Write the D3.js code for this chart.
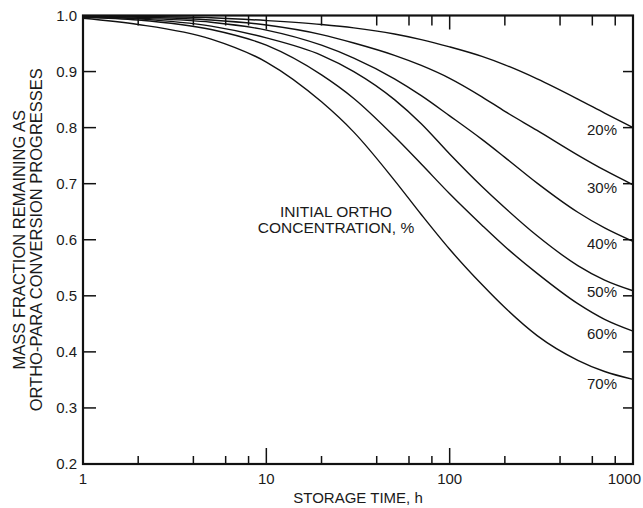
<!DOCTYPE html>
<html>
<head>
<meta charset="utf-8">
<script src="https://cdn.jsdelivr.net/npm/d3@7"></script>
<style>
  body { margin: 0; background: #fff; }
  svg { display: block; }
  text { font-family: Arial, "Liberation Sans", Helvetica, sans-serif; fill: #1a1a1a; }
</style>
</head>
<body>
<svg id="chart"></svg>
<script>
const hours = [1, 2, 5, 10, 20, 30, 50, 70, 100, 150, 200, 300, 500, 700, 1000];

// mass fraction remaining, one list per initial ortho concentration
const ortho20 = [0.9995, 0.9985, 0.996, 0.991, 0.984, 0.978, 0.967, 0.957, 0.944, 0.927, 0.912, 0.887, 0.851, 0.826, 0.800];
const ortho30 = [0.999, 0.997, 0.992, 0.983, 0.966, 0.951, 0.929, 0.911, 0.888, 0.855, 0.829, 0.795, 0.751, 0.724, 0.698];
const ortho40 = [0.998, 0.995, 0.988, 0.974, 0.947, 0.924, 0.887, 0.857, 0.821, 0.779, 0.747, 0.701, 0.649, 0.621, 0.597];
const ortho50 = [0.998, 0.994, 0.981, 0.960, 0.929, 0.900, 0.850, 0.807, 0.753, 0.695, 0.657, 0.607, 0.554, 0.528, 0.509];
const ortho60 = [0.997, 0.992, 0.975, 0.947, 0.894, 0.852, 0.784, 0.735, 0.682, 0.626, 0.588, 0.540, 0.486, 0.458, 0.437];
const ortho70 = [0.995, 0.984, 0.958, 0.917, 0.846, 0.792, 0.706, 0.645, 0.583, 0.520, 0.479, 0.429, 0.385, 0.365, 0.351];

const seriesLabels = ["20%", "30%", "40%", "50%", "60%", "70%"];
const seriesValues = [ortho20, ortho30, ortho40, ortho50, ortho60, ortho70];

const xTickLabels = [1, 10, 100, 1000];
const yTicks = [0.2, 0.3, 0.4, 0.5, 0.6, 0.7, 0.8, 0.9, 1.0];

const width = 643, height = 508;
const margin = {top: 15.5, right: 10, bottom: 44, left: 83};

const svg = d3.select("#chart")
  .attr("width", width)
  .attr("height", height);

const x = d3.scaleLog()
  .domain([1, 1000])
  .range([margin.left, width - margin.right]);

const y = d3.scaleLinear()
  .domain([0.2, 1.0])
  .range([height - margin.bottom, margin.top]);

const x0 = x.range()[0], x1 = x.range()[1];
const y0 = y.range()[0], y1 = y.range()[1];

// minor ticks at 2,4,6,8 of every decade, major at the decades
let minorX = [];
[1, 10, 100].forEach(dec => {
  [2, 4, 6, 8].forEach(m => minorX.push(dec * m));
});
const majorX = [10, 100];

const ticks = svg.append("g")
  .attr("stroke", "#111")
  .attr("stroke-width", 1.5);

// bottom + top ticks point inward
minorX.forEach(t => {
  ticks.append("line").attr("x1", x(t)).attr("x2", x(t)).attr("y1", y0).attr("y2", y0 - 8);
  ticks.append("line").attr("x1", x(t)).attr("x2", x(t)).attr("y1", y1).attr("y2", y1 + 10);
});
majorX.forEach(t => {
  ticks.append("line").attr("x1", x(t)).attr("x2", x(t)).attr("y1", y0).attr("y2", y0 - 16);
  ticks.append("line").attr("x1", x(t)).attr("x2", x(t)).attr("y1", y1).attr("y2", y1 + 14);
});

// left + right ticks
yTicks.slice(1, -1).forEach(v => {
  ticks.append("line").attr("x1", x0).attr("x2", x0 + 13).attr("y1", y(v)).attr("y2", y(v));
  ticks.append("line").attr("x1", x1).attr("x2", x1 - 10).attr("y1", y(v)).attr("y2", y(v));
});

// frame
svg.append("rect")
  .attr("x", x0)
  .attr("y", y1)
  .attr("width", x1 - x0)
  .attr("height", y0 - y1)
  .attr("fill", "none")
  .attr("stroke", "#111")
  .attr("stroke-width", 2.2);

// curves
const line = d3.line()
  .x((d, i) => x(hours[i]))
  .y(d => y(d))
  .curve(d3.curveMonotoneX);

svg.append("g")
  .selectAll("path")
  .data(seriesValues)
  .join("path")
  .attr("d", d => line(d))
  .attr("fill", "none")
  .attr("stroke", "#111")
  .attr("stroke-width", 1.4);

// curve labels, tucked left of the right frame
const labelOffset = [2, 3, 2, 1, 3, 4];
svg.append("g")
  .selectAll("text")
  .data(seriesLabels)
  .join("text")
  .attr("x", x1 - 16)
  .attr("y", (d, i) => y(seriesValues[i][hours.length - 1]) + labelOffset[i])
  .attr("dy", "0.35em")
  .attr("text-anchor", "end")
  .style("font-size", "15px")
  .text(d => d);

// x tick labels (1000 is pulled in so it fits the page)
svg.append("g")
  .selectAll("text")
  .data(xTickLabels)
  .join("text")
  .attr("x", d => d === 1000 ? width - 2 : x(d))
  .attr("y", y0 + 20)
  .attr("text-anchor", d => d === 1000 ? "end" : "middle")
  .style("font-size", "15px")
  .text(d => d);

// y tick labels
svg.append("g")
  .selectAll("text")
  .data(yTicks)
  .join("text")
  .attr("x", x0 - 6)
  .attr("y", d => y(d))
  .attr("dy", "0.36em")
  .attr("text-anchor", "end")
  .style("font-size", "15px")
  .text(d => d.toFixed(1));

// axis titles
svg.append("text")
  .attr("x", (x0 + x1) / 2)
  .attr("y", height - 5)
  .attr("text-anchor", "middle")
  .style("font-size", "15px")
  .text("STORAGE TIME, h");

const yTitle = svg.append("text")
  .attr("transform", `translate(25,${(y0 + y1) / 2}) rotate(-90)`)
  .attr("text-anchor", "middle")
  .style("font-size", "16.5px");
yTitle.append("tspan").attr("x", 0).attr("dy", 0).text("MASS FRACTION REMAINING AS");
yTitle.append("tspan").attr("x", 0).attr("dy", 17).text("ORTHO-PARA CONVERSION PROGRESSES");

// in-plot note
const note = svg.append("text")
  .attr("x", 336)
  .attr("y", 217)
  .attr("text-anchor", "middle")
  .style("font-size", "15.5px");
note.append("tspan").attr("x", 336).attr("dy", 0).text("INITIAL ORTHO");
note.append("tspan").attr("x", 336).attr("dy", 16).text("CONCENTRATION, %");
</script>
</body>
</html>
